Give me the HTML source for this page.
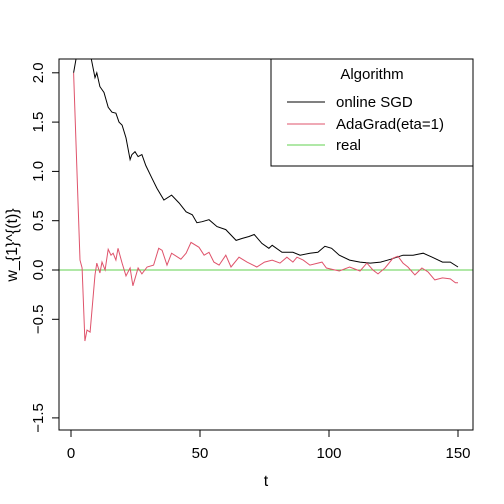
<!DOCTYPE html>
<html><head><meta charset="utf-8"><style>
body{margin:0;background:#fff}
svg{display:block;font-family:"Liberation Sans",sans-serif}
</style></head><body>
<svg id="c" width="504" height="504">
<defs><clipPath id="pc"><rect x="59" y="59" width="414" height="371"/></clipPath></defs>
<g id="marks" clip-path="url(#pc)"></g>
<g id="axes"></g>
<rect x="59" y="59" width="414" height="371" fill="none" stroke="#000"/>
<g>
<rect x="271" y="59" width="202" height="107" fill="#fff" stroke="#000"/>
<text x="372" y="79" font-size="15" text-anchor="middle">Algorithm</text>
<line x1="287" y1="102" x2="325" y2="102" stroke="#000"/>
<text x="336" y="107" font-size="15">online SGD</text>
<line x1="287" y1="124" x2="325" y2="124" stroke="#DF536B"/>
<text x="336" y="129" font-size="15">AdaGrad(eta=1)</text>
<line x1="287" y1="145" x2="325" y2="145" stroke="#61D04F"/>
<text x="336" y="150" font-size="15">real</text>
</g>
<text x="266" y="486" font-size="16" text-anchor="middle">t</text>
<text transform="translate(17,245) rotate(-90)" font-size="16" text-anchor="middle">w_{1}^{(t)}</text>
</svg>
<script>
const sgdT=[1,2,3,5,7.8,9.3,10,11.2,12.8,14.4,15.9,17.4,18.6,19.8,21.3,22.9,23.6,24.8,26,27.5,29,31.4,33.3,36,39,41.9,44.6,47,48.8,50.8,53.5,56.6,60,64,66.4,69,71,74,76.7,78,81.8,86,88.8,92.6,95.7,98.4,101,104,108,112,116,120,124,128.7,132.6,136.5,140,144,147,150];
const sgdV=[2.0,2.15,2.25,2.25,2.15,1.95,2.0,1.86,1.8,1.65,1.6,1.59,1.5,1.47,1.34,1.12,1.17,1.2,1.15,1.17,1.06,0.93,0.83,0.71,0.76,0.68,0.59,0.56,0.48,0.49,0.51,0.44,0.41,0.3,0.32,0.34,0.36,0.27,0.22,0.25,0.18,0.18,0.15,0.17,0.18,0.24,0.22,0.15,0.1,0.08,0.07,0.08,0.11,0.15,0.15,0.17,0.13,0.08,0.08,0.03];
const adaT=[1,3.5,4.3,5.4,6.2,7.4,9.3,10,11.2,12,13.2,14.4,15.5,16.3,17.4,18.2,19.8,21.3,22.9,24,26,27.5,29.5,32,34,35.3,37.2,39,42.6,44.6,46.5,49.6,51.6,53.5,55.4,57.4,60,62,65.1,68.2,72,75,78,81,83.7,86,87.6,90,92.6,97.3,99,104,108,112,114.7,117,119,121.7,124.8,126.7,128.7,130.6,133.3,136,138.4,141,144,147,149,150];
const adaV=[2.0,0.1,0.02,-0.72,-0.61,-0.63,-0.05,0.07,-0.03,0.08,0,0.21,0.15,0.17,0.1,0.22,0.07,-0.06,0.02,-0.16,0.02,-0.04,0.03,0.05,0.22,0.2,0.05,0.17,0.11,0.17,0.28,0.23,0.15,0.18,0.08,0.05,0.15,0.03,0.13,0.08,0.03,0.08,0.1,0.07,0.13,0.08,0.13,0.1,0.05,0.08,0.02,-0.01,0.03,-0.01,0.07,0,-0.04,0.02,0.12,0.14,0.07,0.03,-0.05,0.02,-0.02,-0.1,-0.08,-0.09,-0.13,-0.13];
const realV=[0];
const xTicks=[0,50,100,150];
const yTicks=[2.0,1.5,1.0,0.5,0.0,-0.5,-1.5];
const yLabels=["2.0","1.5","1.0","0.5","0.0","−0.5","−1.5"];
const X=t=>71+t*2.58, Y=v=>270-v*98.6;
const NS="http://www.w3.org/2000/svg";
const marks=document.getElementById('marks'), axes=document.getElementById('axes');
function line(ts,vs,col,name){const p=document.createElementNS(NS,'path');
p.setAttribute('d',ts.map((t,i)=>(i?'L':'M')+X(t).toFixed(1)+','+Y(vs[i]).toFixed(1)).join(''));
p.setAttribute('fill','none');p.setAttribute('stroke',col);p.setAttribute('stroke-width','1');


marks.appendChild(p);}
const h=document.createElementNS(NS,'line');
h.setAttribute('x1',59);h.setAttribute('x2',473);h.setAttribute('y1',Y(realV[0]));h.setAttribute('y2',Y(realV[0]));h.setAttribute('stroke','#61D04F');


marks.appendChild(h);
line(sgdT,sgdV,'#000','sgd-line');
line(adaT,adaV,'#DF536B','adagrad-line');
xTicks.forEach(t=>{const l=document.createElementNS(NS,'line');l.setAttribute('x1',X(t));l.setAttribute('x2',X(t));l.setAttribute('y1',430);l.setAttribute('y2',437);l.setAttribute('stroke','#000');axes.appendChild(l);
const tx=document.createElementNS(NS,'text');tx.setAttribute('x',X(t));tx.setAttribute('y',458);tx.setAttribute('font-size','15');tx.setAttribute('text-anchor','middle');tx.textContent=t;


axes.appendChild(tx);});
const xa=document.createElementNS(NS,'line');xa.setAttribute('x1',X(0));xa.setAttribute('x2',X(150));xa.setAttribute('y1',430);xa.setAttribute('y2',430);xa.setAttribute('stroke','#000');axes.appendChild(xa);
yTicks.forEach((v,i)=>{const l=document.createElementNS(NS,'line');l.setAttribute('x1',52);l.setAttribute('x2',59);l.setAttribute('y1',Y(v));l.setAttribute('y2',Y(v));l.setAttribute('stroke','#000');axes.appendChild(l);
const tx=document.createElementNS(NS,'text');tx.setAttribute('transform','translate(43,'+Y(v)+') rotate(-90)');tx.setAttribute('font-size','15');tx.setAttribute('text-anchor','middle');tx.textContent=yLabels[i];


axes.appendChild(tx);});
</script>
</body></html>
